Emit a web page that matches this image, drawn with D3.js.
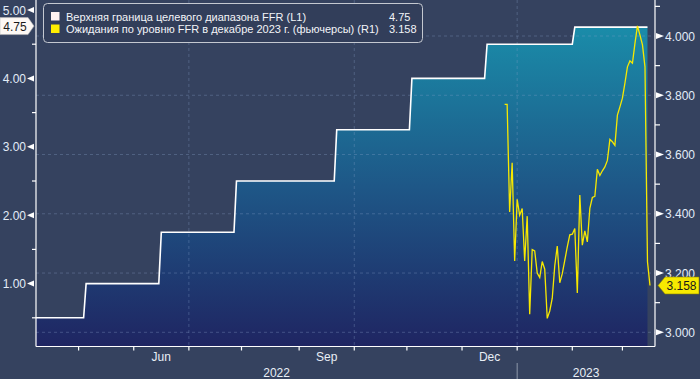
<!DOCTYPE html>
<html><head><meta charset="utf-8">
<script src="https://cdn.jsdelivr.net/npm/d3@7"></script>
<style>
html,body{margin:0;padding:0;background:#35425f;}
svg{display:block;font-family:"Liberation Sans",Arial,sans-serif;}
</style></head><body>
<script>
// upper bound of the FFR target range: change dates and new level
const hikeDates = ["2022-03-17","2022-05-05","2022-06-16","2022-07-28","2022-09-22","2022-11-03","2022-12-15","2023-02-02"];
const hikeUpper = [0.50, 1.00, 1.75, 2.50, 3.25, 4.00, 4.50, 4.75];
const stepTo = "2023-03-15";

// Dec 2023 FFR futures implied rate, one value per weekday from futStart
const futStart = "2022-12-26";
const futValues = [3.769, 3.769, 3.406, 3.572, 3.241, 3.449, 3.395, 3.418, 3.241, 3.392,
  3.061, 3.279, 3.275, 3.200, 3.185, 3.239, 3.213, 3.047, 3.072, 3.115,
  3.224, 3.291, 3.167, 3.198, 3.243, 3.288, 3.329, 3.331, 3.350, 3.133,
  3.463, 3.294, 3.342, 3.305, 3.418, 3.455, 3.459, 3.550, 3.529, 3.545,
  3.558, 3.580, 3.651, 3.643, 3.631, 3.733, 3.761, 3.790, 3.841, 3.896,
  3.916, 3.908, 3.975, 4.034, 4.003, 3.970, 3.896, 3.238, 3.158];

const axisStart = "2022-04-07", axisEnd = "2023-03-17";
const leftTicks = [1, 2, 3, 4, 5];
const leftMinor = [0.5, 1.5, 2.5, 3.5, 4.5];
const rightTicks = [3.0, 3.2, 3.4, 3.6, 3.8, 4.0];
const rightMinor = [3.1, 3.3, 3.5, 3.7, 3.9, 4.1];
const monthLabels = {5: "Jun", 8: "Sep", 11: "Dec"};
const gridMonths = [6, 9, 0];
const years = ["2022", "2023"];
const legendNames = ["Верхняя граница целевого диапазона FFR (L1)", "Ожидания по уровню FFR в декабре 2023 г. (фьючерсы) (R1)"];
const legendValues = ["4.75", "3.158"];
const legendColors = ["#fff2f2", "#ffee00"];

const W = 700, H = 379, bottom = 346.5;
const parse = d3.timeParse("%Y-%m-%d"), key = d3.timeFormat("%Y-%m-%d");
const days = d3.timeDay.range(parse(axisStart), d3.timeDay.offset(parse(axisEnd), 1))
  .filter(d => d.getDay() > 0 && d.getDay() < 6);
const idx = new Map(days.map((d, i) => [key(d), i]));

const x = d3.scaleLinear().domain([0, days.length]).range([36, 655]);
const yL = d3.scaleLinear().domain([0, 5]).range([352, 10]);
const yR = d3.scaleLinear().domain([3, 4]).range([332.3, 36]);

const hikes = hikeDates.map(parse);
const stepData = days.filter(d => d <= parse(stepTo)).map(d => {
  let v;
  hikes.forEach((h, i) => { if (h <= d) v = hikeUpper[i]; });
  return {i: idx.get(key(d)), v};
});
const s0 = idx.get(futStart);
const futData = futValues.map((v, k) => ({i: s0 + k, v}));

const svg = d3.select('body').append('svg').attr('width', W).attr('height', H);
svg.append('rect').attr('width', W).attr('height', H).attr('fill', '#35425f');

const grad = svg.append('defs').append('linearGradient').attr('id', 'fill')
  .attr('gradientUnits', 'userSpaceOnUse').attr('x1', 0).attr('x2', 0)
  .attr('y1', yL(4.75)).attr('y2', bottom);
grad.append('stop').attr('offset', 0).attr('stop-color', '#1a8ca9');
grad.append('stop').attr('offset', 0.5).attr('stop-color', '#1e5787');
grad.append('stop').attr('offset', 1).attr('stop-color', '#1f2562');

svg.append('path').datum(stepData)
  .attr('d', d3.area().x(d => x(d.i)).y0(bottom).y1(d => yL(d.v)))
  .attr('fill', 'url(#fill)');

// month start ticks
const monthStarts = [];
days.forEach((d, i) => { if (i > 0 && d.getMonth() !== days[i - 1].getMonth()) monthStarts.push({i, m: d.getMonth(), y: d.getFullYear()}); });

const grid = svg.append('g').attr('stroke', 'rgba(140,165,205,0.32)').attr('stroke-dasharray', '3,3');
grid.selectAll('line.h').data(rightTicks).enter().append('line')
  .attr('x1', 36).attr('x2', 655).attr('y1', d => yR(d)).attr('y2', d => yR(d));
grid.selectAll('line.v').data(monthStarts.filter(d => gridMonths.includes(d.m))).enter().append('line')
  .attr('x1', d => x(d.i)).attr('x2', d => x(d.i)).attr('y1', 0).attr('y2', bottom);

svg.append('path').datum(stepData)
  .attr('d', d3.line().x(d => x(d.i)).y(d => yL(d.v)))
  .attr('fill', 'none').attr('stroke', '#ffffff').attr('stroke-width', 1.6);

svg.append('path').datum(futData)
  .attr('d', d3.line().x(d => x(d.i)).y(d => yR(d.v)))
  .attr('fill', 'none').attr('stroke', '#f7e800').attr('stroke-width', 1.3);

// axes
const ax = svg.append('g').attr('stroke', '#ffffff').attr('stroke-width', 1.2);
ax.append('line').attr('x1', 36).attr('x2', 36).attr('y1', 0).attr('y2', bottom);
ax.append('line').attr('x1', 655).attr('x2', 655).attr('y1', 0).attr('y2', bottom);
ax.append('line').attr('x1', 36).attr('x2', 655).attr('y1', bottom).attr('y2', bottom);
ax.selectAll('line.lm').data(leftMinor).enter().append('line')
  .attr('x1', 32).attr('x2', 36).attr('y1', d => yL(d)).attr('y2', d => yL(d));
ax.selectAll('line.rm').data(rightMinor).enter().append('line')
  .attr('x1', 655).attr('x2', 660).attr('y1', d => yR(d)).attr('y2', d => yR(d));
ax.selectAll('line.bm').data(monthStarts).enter().append('line')
  .attr('x1', d => x(d.i)).attr('x2', d => x(d.i)).attr('y1', bottom).attr('y2', bottom + 4);

svg.selectAll('path.lt').data(leftTicks).enter().append('path')
  .attr('d', d => `M27,${yL(d)}L34,${yL(d) - 3}L34,${yL(d) + 3}Z`).attr('fill', '#ffffff');
svg.selectAll('text.lt').data(leftTicks).enter().append('text')
  .attr('x', 26).attr('y', d => yL(d) + 4.5).attr('text-anchor', 'end')
  .attr('font-size', 12).attr('fill', '#e2ecf8').text(d => d.toFixed(2));
svg.selectAll('path.rt').data(rightTicks).enter().append('path')
  .attr('d', d => `M664,${yR(d)}L656,${yR(d) - 3}L656,${yR(d) + 3}Z`).attr('fill', '#ffffff');
svg.selectAll('text.rt').data(rightTicks).enter().append('text')
  .attr('x', 665).attr('y', d => yR(d) + 4.5)
  .attr('font-size', 12).attr('fill', '#e2ecf8').text(d => d.toFixed(3));

// month and year labels
monthStarts.forEach((d, k) => {
  if (monthLabels[d.m] && monthStarts[k + 1]) {
    svg.append('text').attr('x', (x(d.i) + x(monthStarts[k + 1].i)) / 2).attr('y', 361)
      .attr('text-anchor', 'middle').attr('font-size', 12).attr('fill', '#e8eef6').text(monthLabels[d.m]);
  }
});
const jan = monthStarts.find(d => d.m === 0);
svg.append('line').attr('x1', x(jan.i)).attr('x2', x(jan.i)).attr('y1', 363).attr('y2', H)
  .attr('stroke', '#8e98aa').attr('stroke-width', 1);
[[36, x(jan.i)], [x(jan.i), 655]].forEach((r, k) => {
  svg.append('text').attr('x', (r[0] + r[1]) / 2).attr('y', 377).attr('text-anchor', 'middle')
    .attr('font-size', 12).attr('fill', '#e8eef6').text(years[k]);
});

// last value tags
const lastStep = stepData[stepData.length - 1], lastFut = futData[futData.length - 1];
const ly = yL(lastStep.v) - 1;
svg.append('path').attr('d', `M0,${ly - 8.5}L28,${ly - 8.5}L34,${ly}L28,${ly + 8.5}L0,${ly + 8.5}Z`)
  .attr('fill', '#fdf8f4').attr('stroke', '#b8b8b8').attr('stroke-width', 0.6);
svg.append('text').attr('x', 15).attr('y', ly + 4.5).attr('text-anchor', 'middle')
  .attr('font-size', 12).attr('fill', '#1a1a1a').text(lastStep.v.toFixed(2));
const ry = yR(lastFut.v);
svg.append('path').attr('d', `M658,${ry}L665,${ry - 8.5}L699,${ry - 8.5}L699,${ry + 8.5}L665,${ry + 8.5}Z`)
  .attr('fill', '#f7ea00').attr('stroke', '#8a8200').attr('stroke-width', 0.6);
svg.append('text').attr('x', 681.5).attr('y', ry + 4.5).attr('text-anchor', 'middle')
  .attr('font-size', 12).attr('fill', '#1a1a1a').text(lastFut.v.toFixed(3));

// legend
const lg = svg.append('g');
lg.append('rect').attr('x', 43.5).attr('y', 3.5).attr('width', 379).attr('height', 39).attr('rx', 4)
  .attr('fill', '#323e5a').attr('stroke', '#c4c8d0').attr('stroke-width', 1);
legendNames.forEach((n, k) => {
  const yy = 12 + k * 12.5;
  lg.append('rect').attr('x', 51).attr('y', yy).attr('width', 8.5).attr('height', 8.5).attr('fill', legendColors[k]);
  lg.append('text').attr('x', 66).attr('y', yy + 8.5).attr('font-size', 11).attr('fill', '#f2f4f8').text(n);
  lg.append('text').attr('x', 389).attr('y', yy + 8.5).attr('font-size', 11).attr('fill', '#f2f4f8').text(legendValues[k]);
});
</script>
</body></html>
